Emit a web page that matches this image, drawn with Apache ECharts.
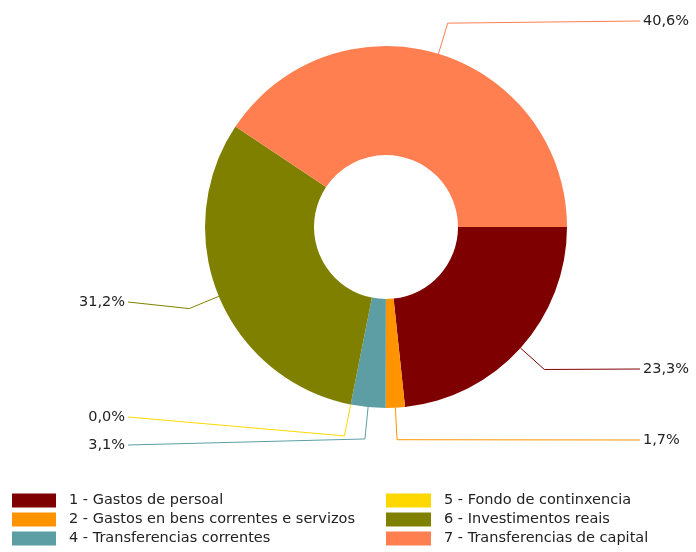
<!DOCTYPE html>
<html>
<head>
<meta charset="utf-8">
<script src="https://cdn.jsdelivr.net/npm/echarts@6/dist/echarts.min.js"></script>
<style>
html,body{margin:0;padding:0;background:#fff;}
#chart{width:696px;height:552px;}
</style>
</head>
<body>
<div id="chart"></div>
<script>
const categories = [
  '1 - Gastos de persoal',
  '2 - Gastos en bens correntes e servizos',
  '4 - Transferencias correntes',
  '5 - Fondo de continxencia',
  '6 - Investimentos reais',
  '7 - Transferencias de capital'
];
const values = [23.3, 1.7, 3.1, 0.0, 31.2, 40.6];
const colors = ['#7f0000', '#ff9400', '#5c9ea3', '#ffd800', '#808000', '#ff7f50'];
const legendLeft = [categories[0], categories[1], categories[2]];
const legendRight = [categories[3], categories[4], categories[5]];

// label placement (layout only)
const labelY = [369, 440, 445, 417, 302, 21];
const rightX = 643, leftX = 125;

const chart = echarts.init(document.getElementById('chart'));
const fontFam = '"DejaVu Sans", Verdana, sans-serif';
chart.setOption({
  animation: false,
  color: colors,
  legend: [{
    left: 12, top: 493, orient: 'vertical', icon: 'rect', padding: 0,
    itemWidth: 44, itemHeight: 14, itemGap: 4,
    data: legendLeft,
    textStyle: {fontFamily: fontFam, fontSize: 14.5, lineHeight: 14, color: '#222', padding: [0,0,0,8]}
  }, {
    left: 386, top: 493, orient: 'vertical', icon: 'rect', padding: 0,
    itemWidth: 45, itemHeight: 14, itemGap: 4,
    data: legendRight,
    textStyle: {fontFamily: fontFam, fontSize: 14.5, lineHeight: 14, color: '#222', padding: [0,0,0,8]}
  }],
  series: [{
    type: 'pie',
    center: [386, 227],
    radius: [72, 181],
    startAngle: 0,
    clockwise: true,
    avoidLabelOverlap: false,
    stillShowZeroSum: true,
    label: {
      show: true,
      fontFamily: fontFam, fontSize: 14.5, color: '#222',
      formatter: p => p.value.toFixed(1).replace('.', ',') + '%'
    },
    labelLine: {show: true, length: 32, length2: 20, lineStyle: {width: 1}},
    emphasis: {disabled: true},
    labelLayout: function (params) {
      const i = params.dataIndex;
      const pts = params.labelLinePoints;
      if (!pts) return {};
      const isLeft = pts[1][0] < 386;
      const y = labelY[i];
      const endX = isLeft ? leftX + 3 : rightX - 3;
      return {
        x: isLeft ? leftX : rightX,
        y: y,
        align: isLeft ? 'right' : 'left',
        verticalAlign: 'middle',
        labelLinePoints: [pts[0], pts[1], [endX, y]]
      };
    },
    data: categories.map((c, i) => ({name: c, value: values[i]}))
  }]
});
</script>
</body>
</html>
